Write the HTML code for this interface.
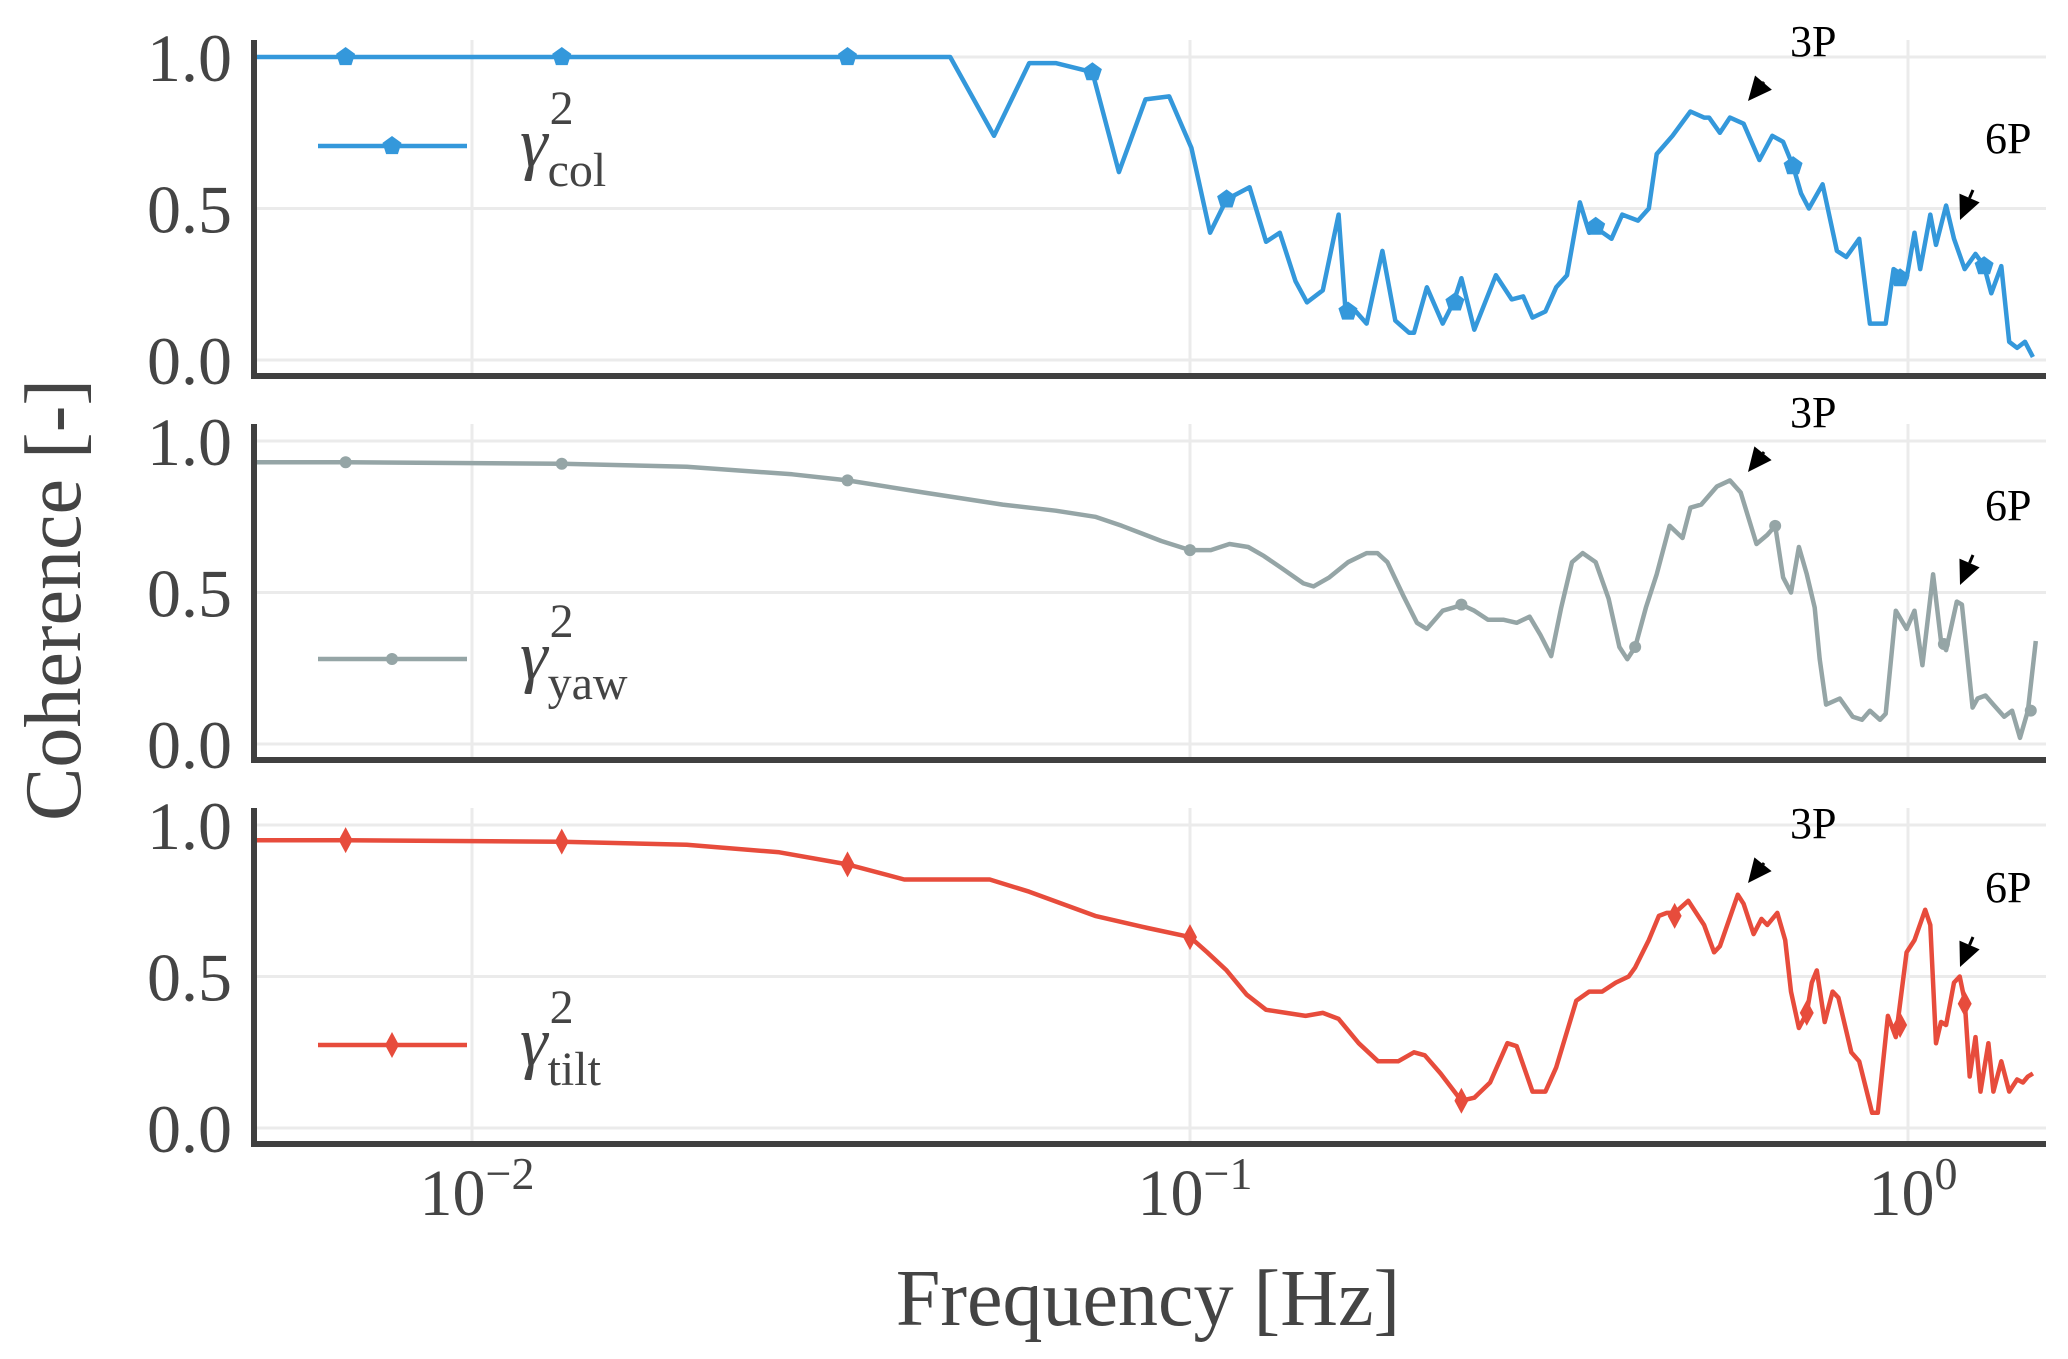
<!DOCTYPE html>
<html><head><meta charset="utf-8"><style>
html,body{margin:0;padding:0;background:#fff;}
svg{display:block;}
text,tspan{font-family:"Liberation Serif","DejaVu Serif","Times New Roman",serif;}
</style></head><body>
<svg id="chart" width="2068" height="1359" viewBox="0 0 2068 1359" xmlns="http://www.w3.org/2000/svg" font-family="Liberation Serif, DejaVu Serif, serif">
<text x="0" y="0" transform="translate(80,600) rotate(-90)" text-anchor="middle" font-size="80" fill="#444" font-family="Liberation Serif, serif">Coherence [-]</text>
<text x="1148" y="1325" text-anchor="middle" font-size="80" fill="#444" font-family="Liberation Serif, serif">Frequency [Hz]</text>
</svg>
<script>
// ---- data (log10 frequency in Hz, coherence values) ----
const colLogFreq = [-2.30,-1.334,-1.273,-1.224,-1.187,-1.136,-1.099,-1.062,-1.029,-0.998,-0.972,-0.949,-0.917,-0.894,-0.875,-0.853,-0.837,-0.815,-0.793,-0.783,-0.769,-0.754,-0.732,-0.714,-0.695,-0.688,-0.670,-0.648,-0.633,-0.622,-0.604,-0.574,-0.552,-0.536,-0.523,-0.505,-0.490,-0.475,-0.457,-0.444,-0.431,-0.413,-0.398,-0.376,-0.361,-0.350,-0.328,-0.303,-0.284,-0.277,-0.262,-0.248,-0.229,-0.207,-0.189,-0.174,-0.160,-0.149,-0.138,-0.119,-0.099,-0.086,-0.068,-0.053,-0.031,-0.020,-0.002,0.009,0.017,0.031,0.039,0.053,0.064,0.079,0.094,0.106,0.116,0.130,0.141,0.152,0.163,0.174];
const colValues = [1.0,1.0,0.74,0.98,0.98,0.95,0.62,0.86,0.87,0.70,0.42,0.53,0.57,0.39,0.42,0.26,0.19,0.23,0.48,0.15,0.16,0.12,0.36,0.13,0.09,0.09,0.24,0.12,0.19,0.27,0.10,0.28,0.20,0.21,0.14,0.16,0.24,0.28,0.52,0.42,0.43,0.40,0.48,0.46,0.50,0.68,0.74,0.82,0.80,0.80,0.75,0.80,0.78,0.66,0.74,0.72,0.64,0.55,0.50,0.58,0.36,0.34,0.40,0.12,0.12,0.30,0.27,0.42,0.30,0.48,0.38,0.51,0.40,0.30,0.35,0.31,0.22,0.31,0.06,0.04,0.06,0.01];
const colMarkLogFreq = [-2.176,-1.875,-1.477,-1.136,-0.949,-0.780,-0.631,-0.435,-0.160,-0.011,0.106];
const colMarkValues = [1.0,1.0,1.0,0.95,0.53,0.16,0.19,0.44,0.64,0.27,0.31];

const yawLogFreq = [-2.301,-2.176,-1.875,-1.701,-1.554,-1.477,-1.371,-1.261,-1.187,-1.132,-1.095,-1.040,-1.000,-0.971,-0.945,-0.919,-0.897,-0.872,-0.842,-0.828,-0.806,-0.780,-0.754,-0.739,-0.725,-0.703,-0.684,-0.670,-0.648,-0.633,-0.622,-0.604,-0.585,-0.563,-0.545,-0.527,-0.512,-0.497,-0.483,-0.468,-0.453,-0.435,-0.417,-0.402,-0.391,-0.380,-0.365,-0.350,-0.332,-0.314,-0.303,-0.288,-0.266,-0.248,-0.233,-0.211,-0.196,-0.185,-0.174,-0.163,-0.152,-0.141,-0.130,-0.123,-0.114,-0.095,-0.077,-0.064,-0.053,-0.039,-0.031,-0.017,-0.002,0.009,0.020,0.035,0.046,0.053,0.068,0.075,0.090,0.097,0.108,0.119,0.134,0.145,0.156,0.167,0.178];
const yawValues = [0.93,0.93,0.925,0.915,0.89,0.87,0.83,0.79,0.77,0.75,0.72,0.67,0.64,0.64,0.66,0.65,0.62,0.58,0.53,0.52,0.55,0.60,0.63,0.63,0.60,0.49,0.40,0.38,0.44,0.45,0.46,0.44,0.41,0.41,0.40,0.42,0.36,0.29,0.45,0.60,0.63,0.60,0.48,0.32,0.28,0.32,0.45,0.56,0.72,0.68,0.78,0.79,0.85,0.87,0.83,0.66,0.69,0.72,0.55,0.50,0.65,0.56,0.45,0.28,0.13,0.15,0.09,0.08,0.11,0.08,0.10,0.44,0.38,0.44,0.26,0.56,0.34,0.31,0.47,0.46,0.12,0.15,0.16,0.13,0.09,0.11,0.02,0.11,0.34];
const yawMarkLogFreq = [-2.176,-1.875,-1.477,-1.0,-0.622,-0.380,-0.185,0.050,0.171];
const yawMarkValues = [0.93,0.925,0.87,0.64,0.46,0.32,0.72,0.33,0.11];

const tiltLogFreq = [-2.301,-2.176,-1.875,-1.701,-1.572,-1.477,-1.398,-1.279,-1.224,-1.132,-1.059,-1.000,-0.976,-0.949,-0.921,-0.894,-0.866,-0.839,-0.815,-0.793,-0.765,-0.738,-0.710,-0.688,-0.673,-0.651,-0.622,-0.604,-0.582,-0.558,-0.545,-0.523,-0.505,-0.490,-0.462,-0.444,-0.426,-0.407,-0.389,-0.380,-0.361,-0.347,-0.336,-0.325,-0.306,-0.284,-0.270,-0.262,-0.237,-0.229,-0.215,-0.204,-0.196,-0.182,-0.171,-0.163,-0.152,-0.141,-0.134,-0.127,-0.116,-0.105,-0.097,-0.079,-0.068,-0.050,-0.042,-0.028,-0.017,-0.002,0.009,0.024,0.031,0.039,0.046,0.053,0.064,0.072,0.079,0.086,0.094,0.101,0.112,0.119,0.130,0.141,0.152,0.160,0.167,0.174];
const tiltValues = [0.95,0.95,0.945,0.935,0.91,0.87,0.82,0.82,0.78,0.70,0.66,0.63,0.58,0.52,0.44,0.39,0.38,0.37,0.38,0.36,0.28,0.22,0.22,0.25,0.24,0.18,0.09,0.10,0.15,0.28,0.27,0.12,0.12,0.20,0.42,0.45,0.45,0.48,0.50,0.53,0.62,0.70,0.71,0.71,0.75,0.67,0.58,0.60,0.77,0.74,0.64,0.69,0.67,0.71,0.62,0.45,0.33,0.38,0.48,0.52,0.35,0.45,0.43,0.25,0.22,0.05,0.05,0.37,0.30,0.58,0.62,0.72,0.67,0.28,0.35,0.34,0.48,0.50,0.42,0.17,0.30,0.12,0.28,0.12,0.22,0.12,0.16,0.15,0.17,0.18];
const tiltMarkLogFreq = [-2.176,-1.875,-1.477,-1.0,-0.622,-0.325,-0.141,-0.011,0.079];
const tiltMarkValues = [0.95,0.945,0.87,0.63,0.09,0.70,0.38,0.34,0.41];

const yTicks = [0, 0.5, 1.0];
const yTickLabels = ["0.0","0.5","1.0"];
const xTickExps = [-2, -1, 0];
const xTickLabels = ["\u22122","\u22121","0"];

// ---- layout ----
const NS = "http://www.w3.org/2000/svg";
const FONT = "Liberation Serif, DejaVu Serif, serif";
const svg = document.getElementById('chart');
const X0 = 254, X1 = 2046;
function xScale(lf){ return 472 + (lf + 2) * 718; }
const panelZero = [360, 744, 1128];
const unit = 303;
function yScale(p, v){ return panelZero[p] - v * unit; }
function mk(tag, attrs){ const e = document.createElementNS(NS, tag); for (const k in attrs) e.setAttribute(k, attrs[k]); if (tag === 'text') e.setAttribute('font-family', FONT); svg.appendChild(e); return e; }

const series = [
  {key:'col', lf:colLogFreq, v:colValues, mlf:colMarkLogFreq, mv:colMarkValues, color:'#3498db', marker:'pentagon', sub:'col'},
  {key:'yaw', lf:yawLogFreq, v:yawValues, mlf:yawMarkLogFreq, mv:yawMarkValues, color:'#95a5a6', marker:'circle', sub:'yaw'},
  {key:'tilt', lf:tiltLogFreq, v:tiltValues, mlf:tiltMarkLogFreq, mv:tiltMarkValues, color:'#e74c3c', marker:'diamond', sub:'tilt'}
];

function drawMarker(type, cx, cy, color, name){
  let e;
  if (type === 'circle') {
    e = mk('circle', {cx:cx, cy:cy, r:6, fill:color});
  } else if (type === 'pentagon') {
    const pts = [];
    for (let i = 0; i < 5; i++) { const a = -Math.PI/2 + i*2*Math.PI/5; pts.push((cx+10*Math.cos(a)).toFixed(1)+','+(cy+10*Math.sin(a)).toFixed(1)); }
    e = mk('polygon', {points:pts.join(' '), fill:color});
  } else {
    e = mk('polygon', {points:`${cx},${cy-13} ${cx+7},${cy} ${cx},${cy+13} ${cx-7},${cy}`, fill:color});
  }
  
  
  return e;
}

function arrow(tx, ty, fx, fy, name){
  const dx = tx - fx, dy = ty - fy, L = Math.hypot(dx, dy), ux = dx/L, uy = dy/L;
  const hl = 24, hw = 11;
  const bx = tx - ux*hl, by = ty - uy*hl;
  const g = mk('g', {});
  
  
  const ln = document.createElementNS(NS, 'line');
  ln.setAttribute('x1', fx); ln.setAttribute('y1', fy); ln.setAttribute('x2', bx); ln.setAttribute('y2', by);
  ln.setAttribute('stroke', '#000'); ln.setAttribute('stroke-width', 3);
  g.appendChild(ln);
  const hd = document.createElementNS(NS, 'polygon');
  hd.setAttribute('points', `${tx},${ty} ${bx - uy*hw},${by + ux*hw} ${bx + uy*hw},${by - ux*hw}`);
  hd.setAttribute('fill', '#000');
  g.appendChild(hd);
}

const ann = [
  {t3:[56,101,82], t6:[153,220,190]},
  {t3:[427,472,452], t6:[520,585,555]},
  {t3:[838,883,863], t6:[902,967,937]}
];

series.forEach((s, p) => {
  const top = panelZero[p] - 1.056*unit, bot = panelZero[p] + 16;
  yTicks.forEach((t, i) => {
    const g = mk('line', {x1:X0, x2:X1, y1:yScale(p,t), y2:yScale(p,t), stroke:'#ebebeb', 'stroke-width':3});
    
    
    const tl = mk('text', {x:232, y:yScale(p,t)+24, 'text-anchor':'end', 'font-size':68, fill:'#444'});
    tl.textContent = yTickLabels[i];
    
    
  });
  xTickExps.forEach(e => {
    const g = mk('line', {x1:xScale(e), x2:xScale(e), y1:top, y2:bot, stroke:'#ebebeb', 'stroke-width':3});
    
    
  });
  const d = s.lf.map((lf, i) => (i ? 'L' : 'M') + xScale(lf).toFixed(1) + ',' + yScale(p, s.v[i]).toFixed(1)).join(' ');
  const path = mk('path', {d:d, fill:'none', stroke:s.color, 'stroke-width':4.5, 'stroke-linejoin':'round'});
  
  
  s.mlf.forEach((lf, i) => drawMarker(s.marker, xScale(lf), yScale(p, s.mv[i]), s.color, s.key + '-marker'));
  const ls = mk('line', {x1:X0, x2:X0, y1:top, y2:bot+3, stroke:'#404040', 'stroke-width':6});
  
  
  const bs = mk('line', {x1:X0-3, x2:X1, y1:bot, y2:bot, stroke:'#404040', 'stroke-width':6});
  
  
  const ly = [146, 659, 1045][p];
  const ll = mk('line', {x1:318, x2:467, y1:ly, y2:ly, stroke:s.color, 'stroke-width':4.5});
  
  
  drawMarker(s.marker, 392, ly, s.color, 'legend-marker-' + s.key);
  const lt = mk('text', {x:520, y:ly+20, 'font-size':70, fill:'#444'});
  
  
  lt.innerHTML = '<tspan font-style="italic">\u03b3</tspan><tspan font-size="48" dx="2" dy="-42">2</tspan><tspan font-size="48" dx="-26" dy="62">' + s.sub + '</tspan>';
  const a = ann[p];
  const t3 = mk('text', {x:1790, y:a.t3[0], 'font-size':44, fill:'#000'});
  t3.textContent = '3P';
  
  
  arrow(1748, a.t3[1], 1764, a.t3[2], 'arrow-3p');
  const t6 = mk('text', {x:1985, y:a.t6[0], 'font-size':44, fill:'#000'});
  t6.textContent = '6P';
  
  
  arrow(1960, a.t6[1], 1973, a.t6[2], 'arrow-6p');
});

xTickExps.forEach((e, i) => {
  const t = mk('text', {x:xScale(e)+5, y:1215, 'text-anchor':'middle', 'font-size':66, fill:'#444'});
  
  
  t.innerHTML = '10<tspan font-size="46" dy="-26">' + xTickLabels[i] + '</tspan>';
});
</script>
</body></html>
